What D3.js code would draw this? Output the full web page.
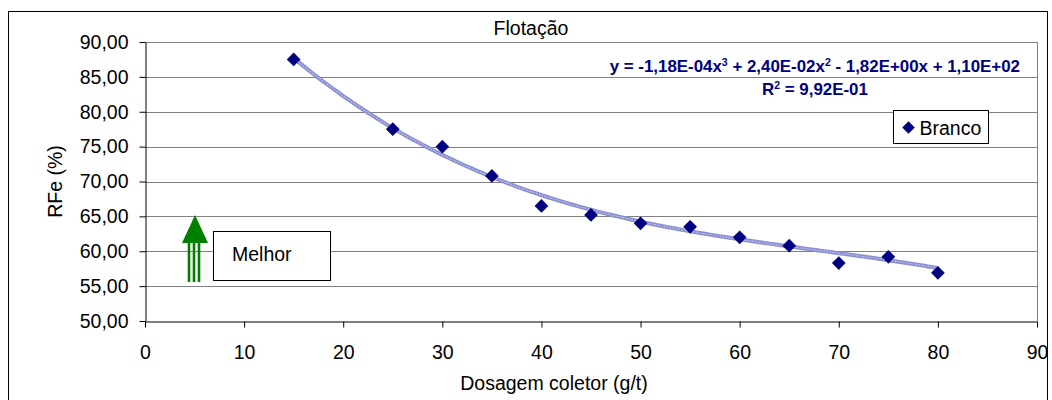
<!DOCTYPE html>
<html>
<head>
<meta charset="utf-8">
<script src="https://cdn.jsdelivr.net/npm/d3@7"></script>
<style>
  body { margin: 0; background: #fff; }
  text { font-family: "Liberation Sans", Arial, sans-serif; }
</style>
</head>
<body>
<div id="chart"></div>
<script>
  // data
  const dosagem = [15, 25, 30, 35, 40, 45, 50, 55, 60, 65, 70, 75, 80]
  const rfe = [87.5, 77.5, 75.0, 70.8, 66.5, 65.2, 64.0, 63.5, 62.0, 60.8, 58.3, 59.2, 56.9]
  // trend line coefficients (x^3, x^2, x, 1) as written on the chart
  const coef = [-1.18e-4, 2.40e-2, -1.82, 110]
  const xTicks = [0, 10, 20, 30, 40, 50, 60, 70, 80, 90]
  const yTicks = [50, 55, 60, 65, 70, 75, 80, 85, 90]

  const W = 1052, H = 400
  const m = { left: 145, right: 15, top: 42, bottom: 79 }
  const fs = 19.5

  const svg = d3.select("#chart").append("svg")
    .attr("width", W).attr("height", H)

  // outer chart frame
  svg.append("rect")
    .attr("x", 8.5).attr("y", 11.5)
    .attr("width", 1039).attr("height", 400)
    .attr("fill", "none").attr("stroke", "#000").attr("stroke-width", 1)

  const x = d3.scaleLinear().domain([0, 90]).range([m.left, W - m.right])
  const y = d3.scaleLinear().domain([50, 90]).range([H - m.bottom, m.top])

  // gridlines
  svg.append("g")
    .selectAll("line")
    .data(yTicks.slice(1))
    .join("line")
    .attr("x1", x(0)).attr("x2", x(90))
    .attr("y1", d => Math.round(y(d)) + 0.5).attr("y2", d => Math.round(y(d)) + 0.5)
    .attr("stroke", "#808080").attr("stroke-width", 1)

  // right border of the plot area
  svg.append("line")
    .attr("x1", Math.round(x(90)) + 0.5).attr("x2", Math.round(x(90)) + 0.5)
    .attr("y1", y(90)).attr("y2", y(50))
    .attr("stroke", "#808080")

  const xAxis = svg.append("g")
    .attr("transform", `translate(0,${Math.round(y(50)) + 0.5})`)
    .call(d3.axisBottom(x).tickValues(xTicks).tickSize(6).tickSizeOuter(0))
  xAxis.select(".domain").attr("stroke", "#000")
  xAxis.selectAll(".tick line").attr("stroke", "#000")
  xAxis.selectAll(".tick text")
    .attr("y", 37).attr("dy", "0").attr("font-size", fs).attr("fill", "#000")
    .style("font-family", "Liberation Sans, Arial, sans-serif")

  const yAxis = svg.append("g")
    .attr("transform", `translate(${Math.round(x(0)) + 0.5},0)`)
    .call(d3.axisLeft(y).tickValues(yTicks).tickSize(6).tickSizeOuter(0)
      .tickFormat(d => d3.format(".2f")(d).replace(".", ",")))
  yAxis.select(".domain").attr("stroke", "#000")
  yAxis.selectAll(".tick line").attr("stroke", "#000")
  yAxis.selectAll(".tick text")
    .attr("x", -17).attr("font-size", fs).attr("fill", "#000")
    .style("font-family", "Liberation Sans, Arial, sans-serif")

  // trend line
  const poly = t => coef[0] * t * t * t + coef[1] * t * t + coef[2] * t + coef[3]
  const trendX = d3.range(15, 80.01, 0.5)
  const line = d3.line().x(d => x(d)).y(d => y(poly(d)))
  svg.append("path")
    .datum(trendX)
    .attr("d", line)
    .attr("fill", "none")
    .attr("stroke", "#8a8fd0").attr("stroke-width", 4)
  svg.append("path")
    .datum(trendX)
    .attr("d", line)
    .attr("fill", "none")
    .attr("stroke", "#c4c7ee").attr("stroke-width", 1.2)
    .attr("stroke-dasharray", "1.5,1.5")

  // points
  const diamond = d3.symbol().type(d3.symbolDiamond2).size(120)
  svg.append("g")
    .selectAll("path")
    .data(dosagem)
    .join("path")
    .attr("transform", (d, i) => `translate(${x(d)},${y(rfe[i])})`)
    .attr("d", diamond)
    .attr("fill", "#000080")

  // title and axis labels
  svg.append("text")
    .attr("x", 531).attr("y", 35)
    .attr("text-anchor", "middle").attr("font-size", fs)
    .text("Flotação")

  svg.append("text")
    .attr("transform", `translate(62,${(y(50) + y(90)) / 2}) rotate(-90)`)
    .attr("text-anchor", "middle").attr("font-size", fs)
    .text("RFe (%)")

  svg.append("text")
    .attr("x", 554).attr("y", 390)
    .attr("text-anchor", "middle").attr("font-size", fs)
    .text("Dosagem coletor (g/t)")

  // equation
  const eq = svg.append("text")
    .attr("x", 1020).attr("y", 72)
    .attr("text-anchor", "end").attr("font-size", 16.9)
    .attr("font-weight", "bold").attr("fill", "#000080")
  eq.append("tspan").text("y = -1,18E-04x")
  eq.append("tspan").attr("dy", -6).attr("font-size", 10.5).text("3")
  eq.append("tspan").attr("dy", 6).text(" + 2,40E-02x")
  eq.append("tspan").attr("dy", -6).attr("font-size", 10.5).text("2")
  eq.append("tspan").attr("dy", 6).text(" - 1,82E+00x + 1,10E+02")

  const r2 = svg.append("text")
    .attr("x", 815).attr("y", 95)
    .attr("text-anchor", "middle").attr("font-size", 16.9)
    .attr("font-weight", "bold").attr("fill", "#000080")
  r2.append("tspan").text("R")
  r2.append("tspan").attr("dy", -6).attr("font-size", 10.5).text("2")
  r2.append("tspan").attr("dy", 6).text(" = 9,92E-01")

  // legend
  const lg = svg.append("g").attr("transform", "translate(893.5,110.5)")
  lg.append("rect").attr("width", 95).attr("height", 33)
    .attr("fill", "#fff").attr("stroke", "#000")
  lg.append("path").attr("transform", "translate(15,17)")
    .attr("d", d3.symbol().type(d3.symbolDiamond2).size(100))
    .attr("fill", "#000080")
  lg.append("text").attr("x", 26).attr("y", 24)
    .attr("font-size", fs).text("Branco")

  // "Melhor" arrow and box
  const g = "#008000"
  const ax = 194
  ;[-5, 0, 5].forEach(dx => {
    svg.append("line")
      .attr("x1", ax + dx).attr("x2", ax + dx)
      .attr("y1", 240).attr("y2", 282)
      .attr("stroke", g).attr("stroke-width", 2.6)
  })
  svg.append("path")
    .attr("d", `M${ax + 1},215 L${ax + 14},243 L${ax - 12},243 Z`)
    .attr("fill", g)

  svg.append("rect")
    .attr("x", 213.5).attr("y", 231.5).attr("width", 117).attr("height", 49)
    .attr("fill", "#fff").attr("stroke", "#000")
  svg.append("text")
    .attr("x", 232).attr("y", 261).attr("font-size", fs)
    .text("Melhor")
</script>
</body>
</html>
